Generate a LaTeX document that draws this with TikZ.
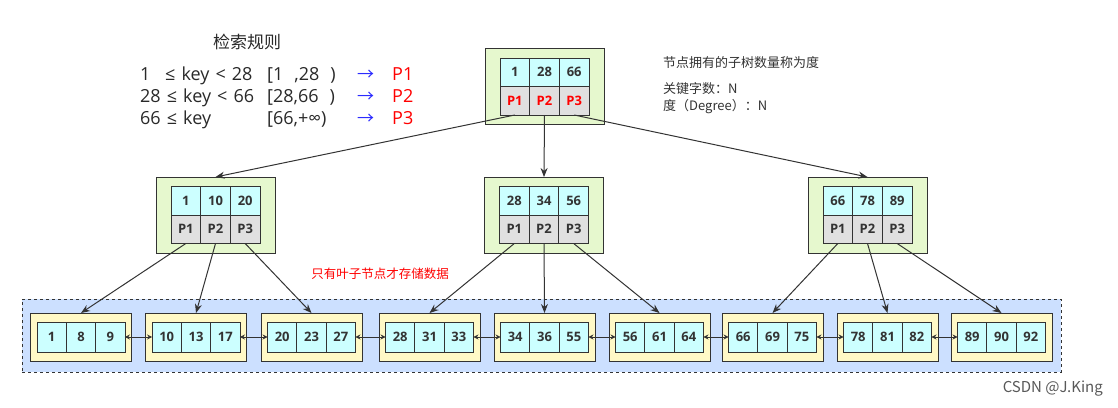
\documentclass[tikz,border=0pt]{standalone}
\usepackage{fontspec}
\setmainfont{Noto Sans CJK SC}
\newfontfamily\numfont{Open Sans}[WordSpace={1.3}]
\usetikzlibrary{arrows.meta}
\definecolor{gfill}{HTML}{E6F8CE}
\definecolor{cyanc}{HTML}{CCFFFF}
\definecolor{grayc}{HTML}{E0E0E0}
\definecolor{yfill}{HTML}{FFF9C6}
\definecolor{bfill}{HTML}{CCE0FF}
\definecolor{dk}{HTML}{333333}
\definecolor{rulered}{HTML}{FF0000}
\definecolor{ruleblue}{HTML}{2B2BFF}
\tikzset{
  outerg/.style={draw=dk, fill=gfill, line width=0.9pt, minimum width=119pt, minimum height=76pt, inner sep=0pt, outer sep=0pt},
  outery/.style={draw=dk, fill=yfill, line width=0.9pt, minimum width=101pt, minimum height=48pt, inner sep=0pt, outer sep=0pt},
  cellbase/.style={draw=dk, line width=0.9pt, inner sep=0pt, outer sep=0pt, text=dk, font=\numfont\bfseries\fontsize{13}{15}\selectfont},
  kcell/.style={cellbase, fill=cyanc, minimum width=29.7pt, minimum height=28.5pt},
  pcell/.style={cellbase, fill=grayc, minimum width=29.7pt, minimum height=28.5pt},
  lcell/.style={cellbase, fill=cyanc, minimum width=29.3pt, minimum height=30pt},
  treeedge/.style={draw=dk, line width=1pt, -{Stealth[length=9pt,width=7pt]}},
  leafedge/.style={draw=dk, line width=1pt, {Stealth[length=5pt,width=5pt]}-{Stealth[length=5pt,width=5pt]}},
  ruletext/.style={anchor=base west, inner sep=0pt, font=\numfont\fontsize{18}{20}\selectfont, text=dk!80!black},
  notetext/.style={anchor=base west, inner sep=0pt, font=\fontsize{13}{16}\selectfont, text=dk},
}
% internal node: name, cx, cy, k1, k2, k3, p-text-colour
\newcommand{\inode}[7]{%
  \node[outerg] (#1) at (#2,#3) {};
  \node[kcell] (#1k1) at (#2-29.7,#3-14.25) {#4};
  \node[kcell] (#1k2) at (#2,#3-14.25) {#5};
  \node[kcell] (#1k3) at (#2+29.7,#3-14.25) {#6};
  \node[pcell, text=#7] (#1p1) at (#2-29.7,#3+14.25) {P1};
  \node[pcell, text=#7] (#1p2) at (#2,#3+14.25) {P2};
  \node[pcell, text=#7] (#1p3) at (#2+29.7,#3+14.25) {P3};
}
% leaf: name, cx, k1, k2, k3
\newcommand{\lnode}[5]{%
  \node[outery] (#1) at (#2,337) {};
  \node[lcell] (#1a) at (#2-29.3,337) {#3};
  \node[lcell] (#1b) at (#2,337) {#4};
  \node[lcell] (#1c) at (#2+29.3,337) {#5};
}
\begin{document}
\begin{tikzpicture}[x=1pt,y=-1pt]
\useasboundingbox (0,0) rectangle (1118,407);
\fill[white] (0,0) rectangle (1118,407);

% leaf container
\node[draw=dk, fill=bfill, dashed, line width=0.9pt, minimum width=1039pt, minimum height=73pt, inner sep=0pt] (leafbox) at (541.5,335.5) {};

% tree nodes
\inode{root}{544.5}{86.5}{1}{28}{66}{rulered}
\inode{na}{215.5}{215}{1}{10}{20}{dk}
\inode{nb}{544}{215}{28}{34}{56}{dk}
\inode{nc}{867.5}{215}{66}{78}{89}{dk}

% leaves
\lnode{la}{81}{1}{8}{9}
\lnode{lb}{196}{10}{13}{17}
\lnode{lc}{311.5}{20}{23}{27}
\lnode{ld}{429.5}{28}{31}{33}
\lnode{le}{544.5}{34}{36}{55}
\lnode{lf}{659.5}{56}{61}{64}
\lnode{lg}{772.5}{66}{69}{75}
\lnode{lh}{887.5}{78}{81}{82}
\lnode{li}{1001.5}{89}{90}{92}

% tree edges
\draw[treeedge] (rootp1.south) -- (na.north);
\draw[treeedge] (rootp2.south) -- (nb.north);
\draw[treeedge] (rootp3.south) -- (nc.north);
\draw[treeedge] (nap1.south) -- (la.north);
\draw[treeedge] (nap2.south) -- (lb.north);
\draw[treeedge] (nap3.south) -- (lc.north);
\draw[treeedge] (nbp1.south) -- (ld.north);
\draw[treeedge] (nbp2.south) -- (le.north);
\draw[treeedge] (nbp3.south) -- (lf.north);
\draw[treeedge] (ncp1.south) -- (lg.north);
\draw[treeedge] (ncp2.south) -- (lh.north);
\draw[treeedge] (ncp3.south) -- (li.north);

% leaf links
\draw[leafedge] (lac.east) -- (lba.west);
\draw[leafedge] (lbc.east) -- (lca.west);
\draw[leafedge] (lcc.east) -- (lda.west);
\draw[leafedge] (ldc.east) -- (lea.west);
\draw[leafedge] (lec.east) -- (lfa.west);
\draw[leafedge] (lfc.east) -- (lga.west);
\draw[leafedge] (lgc.east) -- (lha.west);
\draw[leafedge] (lhc.east) -- (lia.west);

% rules
\node[anchor=base west, inner sep=0pt, font=\fontsize{17}{20}\selectfont, text=dk!80!black] (title) at (213,48) {检索规则};
\node[ruletext] (r1a) at (140,80) {1};
\node[ruletext] (r1b) at (165,80) {≤ key < 28};
\node[ruletext] (r2a) at (140,102) {28 ≤ key < 66};
\node[ruletext] (r3a) at (140,124) {66 ≤ key};
\node[ruletext] (r1c) at (267,80) {[1\hspace{11pt},28\hspace{11pt})};
\node[ruletext] (r2c) at (267,102) {[28,66\hspace{11pt})};
\node[ruletext] (r3c) at (267,124) {[66,+∞)};
\node[ruletext, font=\fontsize{17}{20}\selectfont, text=ruleblue] (r1d) at (357,80) {→};
\node[ruletext, font=\fontsize{17}{20}\selectfont, text=ruleblue] (r2d) at (357,102) {→};
\node[ruletext, font=\fontsize{17}{20}\selectfont, text=ruleblue] (r3d) at (357,124) {→};
\node[ruletext, text=rulered] (r1e) at (392,80) {P1};
\node[ruletext, text=rulered] (r2e) at (392,102) {P2};
\node[ruletext, text=rulered] (r3e) at (392,124) {P3};

% notes
\node[notetext] (n1) at (663,67) {节点拥有的子树数量称为度};
\node[notetext] (n2) at (663,93) {关键字数：N};
\node[notetext] (n3) at (663,110) {度（Degree）：N};
\node[anchor=base, inner sep=0pt, font=\fontsize{12.5}{15}\selectfont, text=rulered] (leafnote) at (380,278) {只有叶子节点才存储数据};

\node[anchor=base east, inner sep=0pt, font=\fontsize{15}{18}\selectfont, text=black!65] (csdn) at (1103,392) {CSDN @J.King};
\end{tikzpicture}
\end{document}
